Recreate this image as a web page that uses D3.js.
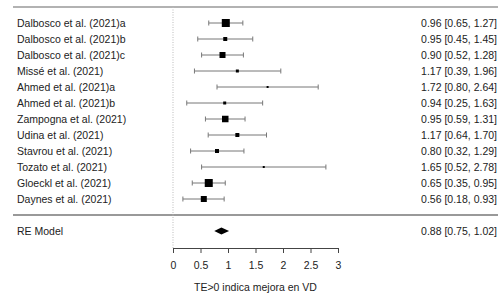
<!DOCTYPE html>
<html>
<head>
<meta charset="utf-8">
<script src="https://cdn.jsdelivr.net/npm/d3@7"></script>
<style>
  body { margin: 0; background: #fff; }
  text { font-family: "Liberation Sans", Arial, sans-serif; fill: #222; }
</style>
</head>
<body>
<div id="chart"></div>
<script>
// study data
const studies = ["Dalbosco et al. (2021)a", "Dalbosco et al. (2021)b", "Dalbosco et al. (2021)c",
    "Missé et al. (2021)", "Ahmed et al. (2021)a", "Ahmed et al. (2021)b", "Zampogna et al. (2021)",
    "Udina et al. (2021)", "Stavrou et al. (2021)", "Tozato et al. (2021)", "Gloeckl et al. (2021)",
    "Daynes et al. (2021)"];
const estimates = [0.96, 0.95, 0.90, 1.17, 1.72, 0.94, 0.95, 1.17, 0.80, 1.65, 0.65, 0.56];
const lower = [0.65, 0.45, 0.52, 0.39, 0.80, 0.25, 0.59, 0.64, 0.32, 0.52, 0.35, 0.18];
const upper = [1.27, 1.45, 1.28, 1.96, 2.64, 1.63, 1.31, 1.70, 1.29, 2.78, 0.95, 0.93];
// square size (weight)
const weights = [8, 4, 6, 3, 2, 3, 6.5, 4, 4, 2, 8, 6];
const model = {label: "RE Model", est: 0.88, lo: 0.75, hi: 1.02};
const xTicks = [0, 0.5, 1, 1.5, 2, 2.5, 3];
const xTitle = "TE>0 indica mejora en VD";

const W = 501, H = 301;
const svg = d3.select("#chart").append("svg").attr("width", W).attr("height", H);

const x = d3.scaleLinear().domain([0, 3]).range([173, 338]);
// rows: k .. 1 for studies, -1 for the model
const k = studies.length;
const y = d3.scaleLinear().domain([k, -1]).range([23, 231]);
const fmt = d3.format(".2f");

// top line and separator
svg.append("line").attr("x1", 13).attr("x2", 498)
    .attr("y1", y(k + 1)).attr("y2", y(k + 1))
    .attr("stroke", "#999").attr("stroke-width", 1.5);
svg.append("line").attr("x1", 13).attr("x2", 498)
    .attr("y1", y(0)).attr("y2", y(0))
    .attr("stroke", "#999").attr("stroke-width", 2);

// reference line at 0
svg.append("line").attr("x1", x(0)).attr("x2", x(0))
    .attr("y1", y(k + 1)).attr("y2", 248)
    .attr("stroke", "#bbb").attr("stroke-dasharray", "1,1.5");

const rows = studies.map((s, i) => ({
    name: s, est: estimates[i], lo: lower[i], hi: upper[i], w: weights[i], row: k - i
}));

const g = svg.append("g");
const r = g.selectAll(".study").data(rows).enter().append("g").attr("class", "study");

r.append("line")
    .attr("x1", d => x(d.lo)).attr("x2", d => x(d.hi))
    .attr("y1", d => y(d.row)).attr("y2", d => y(d.row))
    .attr("stroke", "#777").attr("stroke-width", 1);
r.append("line")
    .attr("x1", d => x(d.lo)).attr("x2", d => x(d.lo))
    .attr("y1", d => y(d.row) - 2.5).attr("y2", d => y(d.row) + 2.5)
    .attr("stroke", "#777");
r.append("line")
    .attr("x1", d => x(d.hi)).attr("x2", d => x(d.hi))
    .attr("y1", d => y(d.row) - 2.5).attr("y2", d => y(d.row) + 2.5)
    .attr("stroke", "#777");
r.append("rect")
    .attr("x", d => x(d.est) - d.w / 2).attr("y", d => y(d.row) - d.w / 2)
    .attr("width", d => d.w).attr("height", d => d.w)
    .attr("fill", "#000");

r.append("text")
    .attr("x", 17).attr("y", d => y(d.row)).attr("dy", "0.35em")
    .style("font-size", "10.5px")
    .text(d => d.name);
r.append("text")
    .attr("x", 497).attr("y", d => y(d.row)).attr("dy", "0.35em")
    .attr("text-anchor", "end")
    .style("font-size", "10.5px")
    .text(d => `${fmt(d.est)} [${fmt(d.lo)}, ${fmt(d.hi)}]`);

// summary diamond
const my = y(-1);
svg.append("path")
    .attr("d", `M${x(model.lo)},${my} L${x(model.est)},${my - 3.5} L${x(model.hi)},${my} L${x(model.est)},${my + 3.5} Z`)
    .attr("fill", "#000");
svg.append("text").attr("x", 17).attr("y", my).attr("dy", "0.35em")
    .style("font-size", "10.5px").text(model.label);
svg.append("text").attr("x", 497).attr("y", my).attr("dy", "0.35em")
    .attr("text-anchor", "end").style("font-size", "10.5px")
    .text(`${fmt(model.est)} [${fmt(model.lo)}, ${fmt(model.hi)}]`);

// x axis
const axis = svg.append("g").attr("transform", "translate(0,248)")
    .call(d3.axisBottom(x).tickValues(xTicks).tickFormat(d3.format("")).tickSize(5).tickPadding(9));
axis.select(".domain").attr("stroke", "#444");
axis.selectAll(".tick line").attr("stroke", "#444");
axis.selectAll(".tick text").style("font-size", "10.5px")
    .style("font-family", "Liberation Sans, Arial, sans-serif").attr("fill", "#222");

svg.append("text").attr("x", x(1.5)).attr("y", 287).attr("dy", "0.35em")
    .attr("text-anchor", "middle").style("font-size", "10.5px").text(xTitle);
</script>
</body>
</html>
